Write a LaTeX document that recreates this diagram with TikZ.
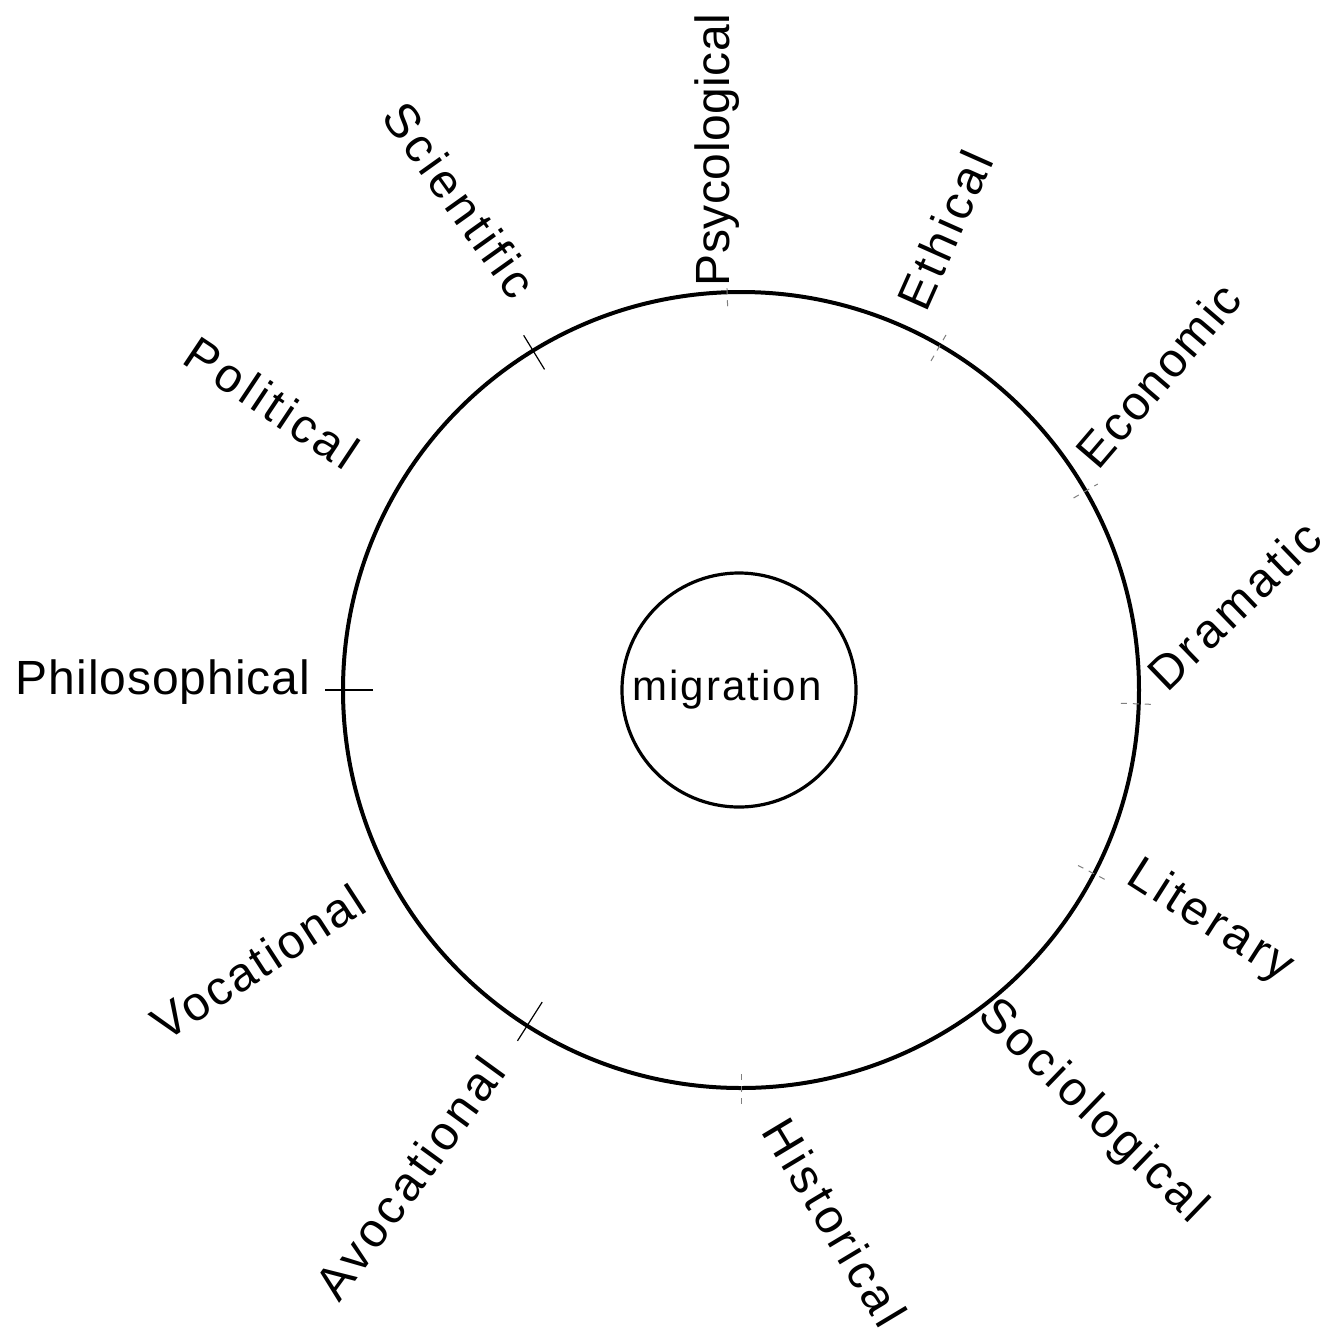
\documentclass[tikz,border=0pt]{standalone}
\usepackage{fontspec}
\setmainfont{Liberation Sans}
\usetikzlibrary{calc}
\begin{document}
\begin{tikzpicture}[x=0.5pt,y=-0.5pt,
  lbl/.style={inner sep=0pt, font=\fontsize{24}{28}\selectfont\addfontfeatures{LetterSpace=8}},
  tight/.style={font=\fontsize{24}{28}\selectfont\addfontfeatures{LetterSpace=#1}},
  ring/.style={circle, draw=black, line width=2pt, inner sep=0pt},
  tickmark/.style={line width=0.6pt, black},
  faint/.style={line width=0.5pt, gray, dashed}]
\useasboundingbox (0,0) rectangle (1335,1340);
\fill[white] (0,0) rectangle (1335,1340);
% circles
\node[ring, minimum size=398pt] (outer) at (741,690) {};
\node[ring, line width=1.6pt, minimum size=117pt] (inner) at (739,690) {};
\node[inner sep=0pt, font=\fontsize{21}{24}\selectfont\addfontfeatures{LetterSpace=5}] (mig) at (727,690) {migration};
% tick marks
\coordinate (c) at (741,690);
\draw[tickmark] ($(c)+(180:184pt)$) -- ($(c)+(180:208pt)$);
\draw[tickmark] ($(c)+(121.5:188pt)$) -- ($(c)+(121.5:208pt)$);
\draw[tickmark] ($(c)+(237.5:185pt)$) -- ($(c)+(237.5:208pt)$);
\draw[faint] ($(c)+(60:190pt)$) -- ($(c)+(60:206pt)$);
\draw[faint] ($(c)+(92:192pt)$) -- ($(c)+(92:204pt)$);
\draw[faint] ($(c)+(30:192pt)$) -- ($(c)+(30:206pt)$);
\draw[faint] ($(c)+(-2:190pt)$) -- ($(c)+(-2:208pt)$);
\draw[faint] ($(c)+(-27.5:190pt)$) -- ($(c)+(-27.5:208pt)$);
\draw[faint] ($(c)+(-90:192pt)$) -- ($(c)+(-90:208pt)$);
% labels
\node[lbl, tight=1, rotate=90] (psy) at (717,150) {Psycological};
\node[lbl, rotate=-54.5] (sci) at (460,200) {Scientific};
\node[lbl, rotate=66] (eth) at (945,230) {Ethical};
\node[lbl, tight=4, rotate=49.5] (eco) at (1158,375) {Economic};
\node[lbl, rotate=44] (dra) at (1234,605) {Dramatic};
\node[lbl, rotate=-32.5] (lit) at (1210,922) {Literary};
\node[lbl, rotate=-44] (soc) at (1092,1112) {Sociological};
\node[lbl, rotate=-59] (his) at (835,1222) {Historical};
\node[lbl, rotate=54] (avo) at (410,1178) {Avocational};
\node[lbl, tight=5, rotate=33] (voc) at (258,962) {Vocational};
\node[lbl, tight=2] (phi) at (163,682) {Philosophical};
\node[lbl, rotate=-33.7] (pol) at (272,403) {Political};
\end{tikzpicture}
\end{document}
